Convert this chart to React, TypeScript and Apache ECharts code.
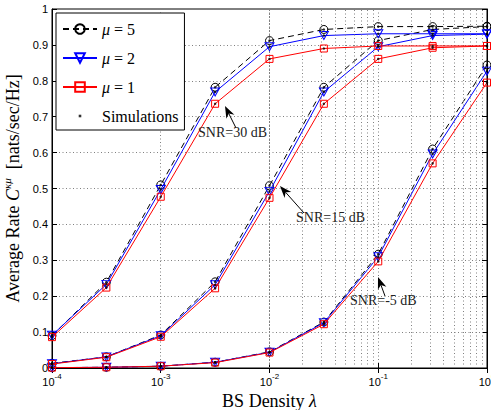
import React, { useEffect, useRef } from 'react';
import * as echarts from 'echarts';

const lambda = [1e-4, 3.162e-4, 1e-3, 3.162e-3, 1e-2, 3.162e-2, 1e-1, 3.162e-1, 1];

const snr30_mu5 = [0.090, 0.239, 0.510, 0.782, 0.912, 0.943, 0.951, 0.951, 0.952];
const snr30_mu2 = [0.091, 0.233, 0.497, 0.769, 0.895, 0.926, 0.931, 0.931, 0.931];
const snr30_mu1 = [0.086, 0.224, 0.477, 0.736, 0.861, 0.890, 0.897, 0.897, 0.897];
const snr15_mu5 = [0.013, 0.031, 0.092, 0.240, 0.508, 0.782, 0.912, 0.943, 0.951];
const snr15_mu2 = [0.012, 0.031, 0.090, 0.232, 0.492, 0.769, 0.895, 0.926, 0.930];
const snr15_mu1 = [0.011, 0.030, 0.087, 0.222, 0.474, 0.736, 0.861, 0.892, 0.897];
const snrm5_mu5 = [0.001, 0.002, 0.005, 0.016, 0.045, 0.128, 0.317, 0.610, 0.844];
const snrm5_mu2 = [0.001, 0.002, 0.005, 0.016, 0.044, 0.126, 0.310, 0.596, 0.827];
const snrm5_mu1 = [0.001, 0.002, 0.005, 0.015, 0.043, 0.122, 0.297, 0.570, 0.795];

const minorMultipliers = [2, 3, 4, 5, 6, 7, 8, 9];
const decades = [1e-4, 1e-3, 1e-2, 1e-1];

const legendLabels: Record<string, string> = {
  mu5: '{i|μ}{t| = 5}',
  mu2: '{i|μ}{t| = 2}',
  mu1: '{i|μ}{t| = 1}',
  Simulations: '{t|Simulations}',
};

const annotations = [
  { text: 'SNR=30 dB', tx: 198, ty: 132, x1: 236, y1: 128, x2: 225, y2: 106 },
  { text: 'SNR=15 dB', tx: 296, ty: 217, x1: 304, y1: 213, x2: 280, y2: 186 },
  { text: 'SNR=-5 dB', tx: 350, ty: 300, x1: 385, y1: 296, x2: 378, y2: 277 },
];

const SERIF = 'Liberation Serif';
const SANS = 'Liberation Sans';
const GRID_COLOR = '#808080';
const GRID_DASH = [1, 2.5];

function arrow(a: typeof annotations[number]) {
  const dx = a.x2 - a.x1;
  const dy = a.y2 - a.y1;
  const len = Math.sqrt(dx * dx + dy * dy);
  const ux = dx / len;
  const uy = dy / len;
  const px = -uy;
  const py = ux;
  const L = 12;
  const W = 4.5;
  const bx = a.x2 - ux * L;
  const by = a.y2 - uy * L;
  const nx = a.x2 - ux * L * 0.7;
  const ny = a.y2 - uy * L * 0.7;
  return [
    {
      type: 'line',
      shape: { x1: a.x1, y1: a.y1, x2: nx, y2: ny },
      style: { stroke: '#000', lineWidth: 1 },
      z: 100,
    },
    {
      type: 'polygon',
      shape: {
        points: [
          [a.x2, a.y2],
          [bx + px * W, by + py * W],
          [nx, ny],
          [bx - px * W, by - py * W],
        ],
      },
      style: { fill: '#000' },
      z: 100,
    },
    {
      type: 'text',
      x: a.tx,
      y: a.ty,
      style: {
        text: a.text,
        font: `14px "${SERIF}"`,
        fill: '#222',
        verticalAlign: 'middle',
        align: 'left',
      },
      z: 100,
    },
  ];
}

export default function App() {
  const ref = useRef<HTMLDivElement>(null);

  useEffect(() => {
    if (!ref.current) return;
    const chart = echarts.init(ref.current, null, { renderer: 'svg' });

    const groups = [
      { mu5: snr30_mu5, mu2: snr30_mu2, mu1: snr30_mu1 },
      { mu5: snr15_mu5, mu2: snr15_mu2, mu1: snr15_mu1 },
      { mu5: snrm5_mu5, mu2: snrm5_mu2, mu1: snrm5_mu1 },
    ];

    const styles: Record<string, any> = {
      mu5: { color: '#000000', symbol: 'circle', size: 8, type: [6, 4] },
      mu2: { color: '#0000ff', symbol: 'path://M0,0 L10,0 L5,9 Z', size: [9, 8], type: 'solid' },
      mu1: { color: '#ff0000', symbol: 'rect', size: 7, type: 'solid' },
    };

    const series: any[] = [];
    groups.forEach((g: any) => {
      ['mu5', 'mu2', 'mu1'].forEach((k, idx) => {
        const s = styles[k];
        series.push({
          type: 'line',
          name: k,
          data: lambda.map((x, i) => [x, g[k][i]]),
          symbol: s.symbol,
          symbolSize: s.size,
          showSymbol: true,
          silent: true,
          lineStyle: { color: s.color, width: 1, type: s.type },
          itemStyle: { color: 'rgba(255,255,255,0)', borderColor: s.color, borderWidth: 1 },
          z: 3 + idx,
        });
      });
    });

    const simData: number[][] = [];
    groups.forEach((g: any) => {
      ['mu5', 'mu2', 'mu1'].forEach((k) => {
        lambda.forEach((x, i) => simData.push([x, g[k][i]]));
      });
    });

    series.push({
      type: 'scatter',
      name: 'Simulations',
      data: simData,
      symbol: 'circle',
      symbolSize: 2.5,
      silent: true,
      itemStyle: { color: '#000' },
      z: 10,
    });

    const minorX: number[] = [];
    decades.forEach((d) => minorMultipliers.forEach((m) => minorX.push(d * m)));

    series.push({
      type: 'line',
      name: 'minorGrid',
      data: [],
      silent: true,
      z: 1,
      markLine: {
        silent: true,
        symbol: ['none', 'none'],
        label: { show: false },
        animation: false,
        lineStyle: { color: GRID_COLOR, type: GRID_DASH, width: 1 },
        emphasis: { disabled: true },
        data: minorX.map((x) => ({ xAxis: x })),
      },
    });

    const graphics: any[] = [];
    annotations.forEach((a) => graphics.push(...arrow(a)));

    chart.setOption({
      animation: false,
      backgroundColor: '#fff',
      grid: {
        left: 52,
        right: 4,
        top: 9,
        bottom: 42,
        show: true,
        borderColor: '#000',
        borderWidth: 1,
        containLabel: false,
        outerBoundsMode: 'none',
      },
      legend: {
        orient: 'vertical',
        left: 56,
        top: 13,
        padding: [8, 6, 6, 6],
        itemGap: 13,
        itemWidth: 34,
        itemHeight: 12,
        backgroundColor: '#fff',
        borderColor: '#000',
        borderWidth: 1,
        borderRadius: 0,
        selectedMode: false,
        data: [
          'mu5',
          'mu2',
          'mu1',
          { name: 'Simulations', icon: 'path://M0,0 M34,12 M15.7,4.7 L18.3,4.7 L18.3,7.3 L15.7,7.3 Z' },
        ],
        formatter: (name: string) => legendLabels[name] || name,
        textStyle: {
          fontFamily: SERIF,
          fontSize: 16,
          color: '#000',
          rich: {
            t: { fontFamily: SERIF, fontSize: 16, fontWeight: 'normal', color: '#000' },
            i: { fontFamily: SERIF, fontSize: 16, fontStyle: 'italic', fontWeight: 'normal', color: '#000' },
          },
        },
      },
      xAxis: [
        {
          type: 'log',
          logBase: 10,
          min: 1e-4,
          max: 1,
          position: 'bottom',
          axisLine: { show: true, lineStyle: { color: '#000', width: 1 } },
          axisTick: { show: true, inside: true, length: 5, lineStyle: { color: '#000' } },
          axisLabel: {
            margin: 4,
            formatter: (v: number) => `{b|10}{s|${Math.round(Math.log10(v))}}`,
            rich: {
              b: { fontFamily: SANS, fontSize: 11, color: '#000', lineHeight: 15, verticalAlign: 'bottom' },
              s: { fontFamily: SANS, fontSize: 8, color: '#000', lineHeight: 8, verticalAlign: 'top' },
            },
          },
          splitLine: { show: true, lineStyle: { color: GRID_COLOR, type: GRID_DASH, width: 1 } },
          name: '{t|BS Density }{i|λ}',
          nameLocation: 'middle',
          nameGap: 18,
          nameTextStyle: {
            verticalAlign: 'top',
            rich: {
              t: { fontFamily: SERIF, fontSize: 18, color: '#000' },
              i: { fontFamily: SERIF, fontSize: 18, fontStyle: 'italic', color: '#000' },
            },
          },
        },
        {
          type: 'log',
          logBase: 10,
          min: 1e-4,
          max: 1,
          position: 'top',
          axisLine: { show: true, lineStyle: { color: '#000', width: 1 } },
          axisTick: { show: true, inside: true, length: 5, lineStyle: { color: '#000' } },
          axisLabel: { show: false },
          splitLine: { show: false },
        },
      ],
      yAxis: [
        {
          type: 'value',
          min: 0,
          max: 1,
          interval: 0.1,
          position: 'left',
          axisLine: { show: true, lineStyle: { color: '#000', width: 1 } },
          axisTick: { show: true, inside: true, length: 5, lineStyle: { color: '#000' } },
          axisLabel: {
            margin: 4,
            fontFamily: SANS,
            fontSize: 11,
            color: '#000',
            formatter: (v: number) => (v === 0 ? '0' : v === 1 ? '1' : v.toFixed(1)),
          },
          splitLine: { show: true, lineStyle: { color: GRID_COLOR, type: GRID_DASH, width: 1 } },
          name: '{t|Average Rate }{i|C}{s|κμ}{t|  [nats/sec/Hz]}',
          nameLocation: 'middle',
          nameGap: 24,
          nameTextStyle: {
            rich: {
              t: { fontFamily: SERIF, fontSize: 18, color: '#000', lineHeight: 20, verticalAlign: 'bottom' },
              i: { fontFamily: SERIF, fontSize: 18, fontStyle: 'italic', color: '#000', lineHeight: 20, verticalAlign: 'bottom' },
              s: { fontFamily: SERIF, fontSize: 11, fontStyle: 'italic', color: '#000', lineHeight: 11, verticalAlign: 'top' },
            },
          },
        },
        {
          type: 'value',
          min: 0,
          max: 1,
          interval: 0.1,
          position: 'right',
          axisLine: { show: true, lineStyle: { color: '#000', width: 1 } },
          axisTick: { show: true, inside: true, length: 5, lineStyle: { color: '#000' } },
          axisLabel: { show: false },
          splitLine: { show: false },
        },
      ],
      series,
      graphic: graphics,
    });

    return () => chart.dispose();
  }, []);

  return (
    <div
      ref={ref}
      style={{ position: 'fixed', left: 0, top: 0, width: 491, height: 410, background: '#fff' }}
    />
  );
}
